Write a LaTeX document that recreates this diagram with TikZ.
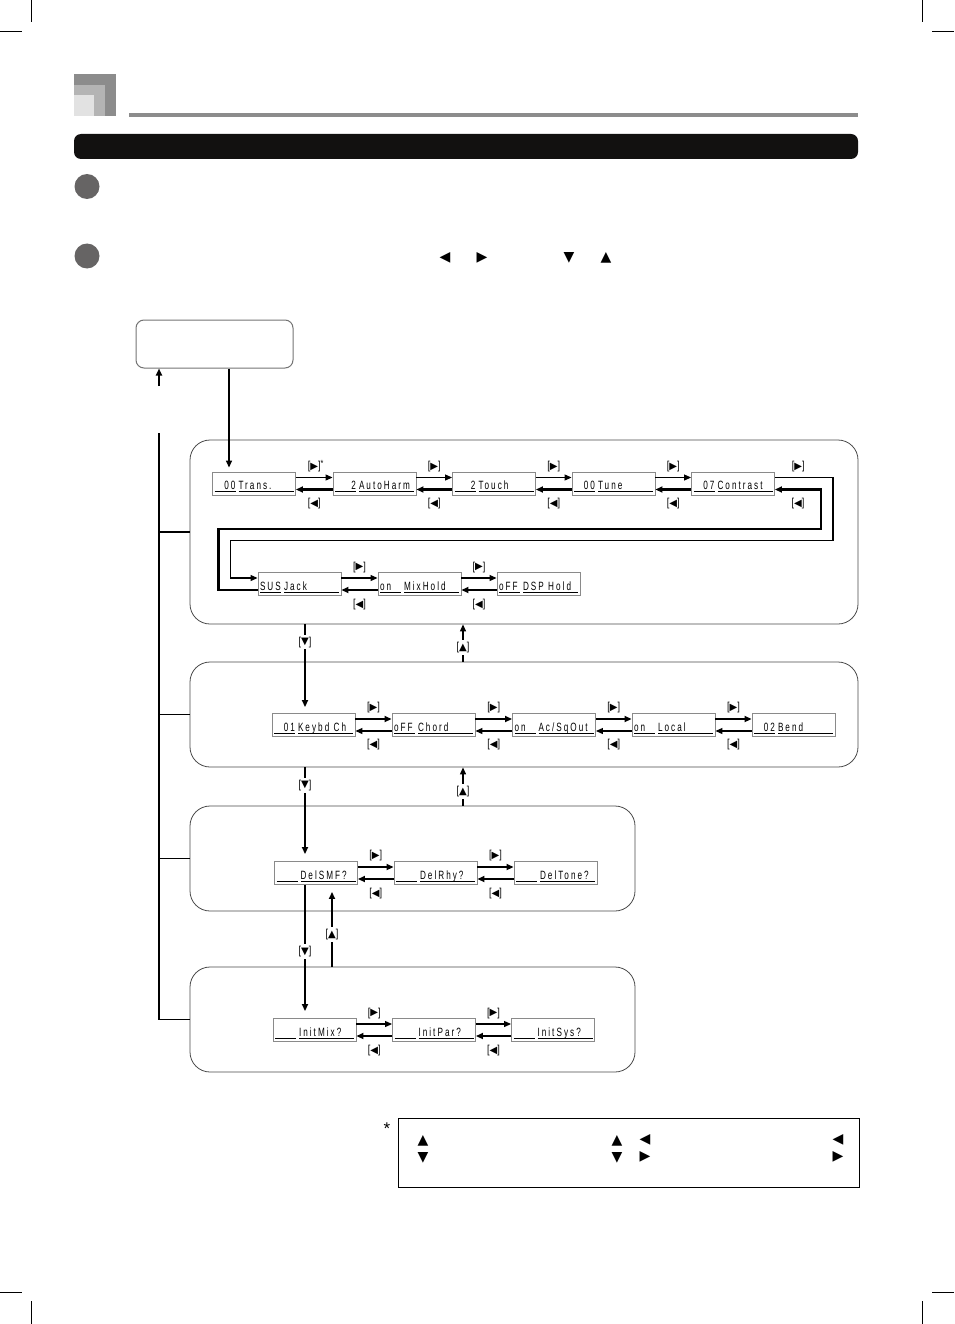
\documentclass[tikz,border=0pt]{standalone}
\usepackage{fontspec}
\setmainfont{Liberation Sans}
\newfontfamily\lcdfont[FakeStretch=0.68,LetterSpace=17]{Liberation Sans}
\newfontfamily\keyfont[FakeStretch=0.8]{Liberation Sans}
\newfontfamily\symfont{DejaVu Sans}
\usetikzlibrary{arrows.meta,positioning}
\definecolor{hdrdark}{HTML}{8C8C8C}
\definecolor{hdrmid}{HTML}{B4B4B4}
\definecolor{hdrlight}{HTML}{E2E2E2}
\definecolor{barblk}{HTML}{121110}
\definecolor{dotgray}{HTML}{666464}
\definecolor{lcdedge}{HTML}{8A8A8A}
\definecolor{grpedge}{HTML}{4A4A4A}

% underlined display cell: width, alignment, text
\newcommand\ulcell[3]{\makebox[0pt][l]{\rule[-2.2pt]{#1}{0.7pt}}\makebox[#1][#2]{#3}}
\newcommand\lcd[3][r]{\ulcell{21pt}{#1}{#2}\hspace{3pt}\ulcell{55pt}{l}{#3}}
\newcommand\key[1]{[\raisebox{0.3pt}{\symfont\fontsize{10}{10}\selectfont#1}]}

\begin{document}
\begin{tikzpicture}[
  x=1pt,y=-1pt,
  lcd/.style={draw=lcdedge,line width=0.9pt,minimum width=83pt,minimum height=23pt,
              inner xsep=0pt,inner ysep=1.5pt,text height=16pt,text depth=4pt,
              font=\lcdfont\fontsize{12}{12}\selectfont},
  grp/.style={draw=grpedge,line width=0.8pt,rounded corners=20pt,inner sep=0pt},
  menubox/.style={draw=black!55,line width=1pt,rounded corners=8pt,
                  minimum width=157pt,minimum height=48pt,inner sep=0pt},
  lbl/.style={font=\keyfont\fontsize{11.5}{11.5}\selectfont,inner sep=1pt},
  gap/.style={lbl,fill=white,inner ysep=2pt},
  nav/.style={-{Triangle[length=7pt,width=6pt]},line width=1.1pt},
  navb/.style={-{Triangle[length=7pt,width=6pt]},line width=2.2pt},
  bus/.style={line width=1.6pt},
  glyph/.style={font=\symfont\fontsize{14}{14}\selectfont,inner sep=0pt},
  crop/.style={line width=0.8pt}]
\useasboundingbox (0,0) rectangle (954,1324);

% ---------------- page furniture ----------------
\draw[crop] (31.5,0) -- (31.5,22) (0,31.5) -- (22,31.5)
            (922.5,0) -- (922.5,22) (932,31.5) -- (954,31.5)
            (0,1292) -- (22,1292) (31.5,1301) -- (31.5,1324)
            (932,1292) -- (954,1292) (922.5,1301) -- (922.5,1324);
\fill[hdrdark]  (74,74) rectangle (116,116);
\fill[hdrmid]   (74,85) rectangle (105,116);
\fill[hdrlight] (74,95) rectangle (94,116);
\fill[hdrdark]  (129,113) rectangle (858,117);
\fill[barblk,rounded corners=7pt] (74,134) rectangle (858,159);
\fill[dotgray] (87,186.5) circle[radius=12.5];
\fill[dotgray] (87,256) circle[radius=12.5];
\foreach \nm/\px/\gl in {sl/445/◀,sr/482/▶,sd/569/▼,su/606/▲}
  \node[glyph] (\nm) at (\px,258) {\gl};

% ---------------- menu and groups ----------------
\node[menubox] (mode) at (214.5,344) {};
\node[grp,minimum width=668pt,minimum height=184pt] (g1) at (524,532) {};
\node[grp,minimum width=668pt,minimum height=105pt] (g2) at (524,714.5) {};
\node[grp,minimum width=445pt,minimum height=105pt] (g3) at (412.5,858.5) {};
\node[grp,minimum width=445pt,minimum height=105pt] (g4) at (412.5,1019.5) {};

\coordinate (exitpt) at (159,386);
\coordinate (bustop) at (159,433);
\draw[navb,line width=1.8pt] (exitpt) -- (exitpt |- mode.south);
\draw[bus] (bustop) |- (g4.west);
\draw[bus] (bustop |- g1.west) -- (g1.west);
\draw[bus] (bustop |- g2.west) -- (g2.west);
\draw[bus] (bustop |- g3.west) -- (g3.west);

% ---------------- group 1 ----------------
\node[lcd] (c1) at (254,483.5)   {\lcd{00}{Trans.}};
\node[lcd] (c2) at (374.5,483.5) {\lcd{2}{AutoHarm}};
\node[lcd] (c3) at (494,483.5)   {\lcd{2}{Touch}};
\node[lcd] (c4) at (613.5,483.5) {\lcd{00}{Tune}};
\node[lcd] (c5) at (733,483.5)   {\lcd{07}{Contrast}};
\node[lcd] (s1) at (299.5,584)   {\lcd[l]{SUS}{Jack}};
\node[lcd] (s2) at (419.5,584)   {\lcd[l]{on}{MixHold}};
\node[lcd] (s3) at (538.5,584)   {\lcd[l]{oFF}{DSP Hold}};

\coordinate (menux) at (229,0);
\draw[nav,line width=1.4pt,shorten >=4pt] (menux |- mode.south) -- (menux |- c1.north);

\draw[nav] ([yshift=6pt]c1.east) -- node[lbl,above=4pt]
  {\key{▶}\rlap{\raisebox{3.5pt}{\small *}}} ([yshift=6pt]c2.west);
\draw[navb] ([yshift=-6pt]c2.west) -- node[lbl,below=7pt]{\key{◀}} ([yshift=-6pt]c1.east);
\foreach \a/\b in {c2/c3,c3/c4,c4/c5,s1/s2,s2/s3}{
  \draw[nav] ([yshift=6pt]\a.east) -- node[lbl,above=4pt]{\key{▶}} ([yshift=6pt]\b.west);
  \draw[navb] ([yshift=-6pt]\b.west) -- node[lbl,below=7pt]{\key{◀}} ([yshift=-6pt]\a.east);
}
% wrap round to the second line
\draw[nav] ([yshift=6pt]c5.east) -- node[lbl,above=4pt,pos=0.4]{\key{▶}} ++(58,0)
  -- ++(0,63) -| ([xshift=-27pt,yshift=6pt]s1.west) -- ([yshift=6pt]s1.west);
\draw[navb] ([yshift=-6pt]s1.west) -- ++(-39,0) -- ++(0,-61)
  -| ([xshift=46pt,yshift=-6pt]c5.east) -- node[lbl,below=7pt]{\key{◀}} ([yshift=-6pt]c5.east);

% ---------------- group 2 ----------------
\node[lcd] (k1) at (313.5,725) {\lcd{01}{Keybd Ch}};
\node[lcd] (k2) at (433.5,725) {\lcd[l]{oFF}{Chord}};
\node[lcd] (k3) at (554,725)   {\lcd[l]{on}{Ac/SqOut}};
\node[lcd] (k4) at (673.5,725) {\lcd[l]{on}{Local}};
\node[lcd] (k5) at (793.5,725) {\lcd{02}{Bend}};
\foreach \a/\b in {k1/k2,k2/k3,k3/k4,k4/k5}{
  \draw[navb] ([yshift=6pt]\a.east) -- node[lbl,above=4pt]{\key{▶}} ([yshift=6pt]\b.west);
  \draw[nav] ([yshift=-6pt]\b.west) -- node[lbl,below=7pt]{\key{◀}} ([yshift=-6pt]\a.east);
}

% ---------------- group 3 ----------------
\node[lcd] (d1) at (316,873)   {\lcd{}{DelSMF?}};
\node[lcd] (d2) at (435.5,873) {\lcd{}{DelRhy?}};
\node[lcd] (d3) at (555.5,873) {\lcd{}{DelTone?}};
\foreach \a/\b in {d1/d2,d2/d3}{
  \draw[navb] ([yshift=6pt]\a.east) -- node[lbl,above=4pt]{\key{▶}} ([yshift=6pt]\b.west);
  \draw[navb] ([yshift=-6pt]\b.west) -- node[lbl,below=7pt]{\key{◀}} ([yshift=-6pt]\a.east);
}

% ---------------- group 4 ----------------
\node[lcd] (i1) at (314.5,1030) {\lcd{}{InitMix?}};
\node[lcd] (i2) at (434,1030)   {\lcd{}{InitPar?}};
\node[lcd] (i3) at (553,1030)   {\lcd{}{InitSys?}};
\foreach \a/\b in {i1/i2,i2/i3}{
  \draw[nav] ([yshift=6pt]\a.east) -- node[lbl,above=4pt]{\key{▶}} ([yshift=6pt]\b.west);
  \draw[navb] ([yshift=-6pt]\b.west) -- node[lbl,below=7pt]{\key{◀}} ([yshift=-6pt]\a.east);
}

% ---------------- between groups ----------------
\coordinate (dnx) at (305,0);
\coordinate (upx) at (463,0);
\coordinate (up3x) at (332,0);
\draw[navb,shorten >=6pt] (dnx |- g1.south) -- node[gap,pos=0.2]{\key{▼}} (dnx |- k1.north);
\draw[nav] (upx |- g2.north) -- node[gap,pos=0.37]{\key{▲}} (upx |- g1.south);
\draw[navb,shorten >=7pt] (dnx |- g2.south) -- node[gap,pos=0.19]{\key{▼}} (dnx |- d1.north);
\draw[nav] (upx |- g3.north) -- node[gap,pos=0.36]{\key{▲}} (upx |- g2.south);
\draw[navb,shorten >=7pt] (dnx |- d1.south) -- node[gap,pos=0.5]{\key{▼}} (dnx |- i1.north);
\draw[navb,shorten >=7pt] (up3x |- g4.north) -- node[gap,pos=0.39]{\key{▲}} (up3x |- d1.south);

% ---------------- footnote ----------------
\node[draw,line width=0.9pt,minimum width=461pt,minimum height=69pt,inner sep=0pt]
  (notebox) at (628.5,1152.5) {};
\node[font=\fontsize{17}{17}\selectfont,inner sep=0pt] (ast) at (387,1129) {*};
\foreach \nm/\px/\py/\gl in {na/423/1141/▲,nb/423/1158/▼,nc/617/1141/▲,nd/617/1158/▼,
                             ne/645/1140/◀,nf/645/1157/▶,ng/838/1140/◀,nh/838/1157/▶}
  \node[glyph] (\nm) at (\px,\py) {\gl};
\end{tikzpicture}
\end{document}
